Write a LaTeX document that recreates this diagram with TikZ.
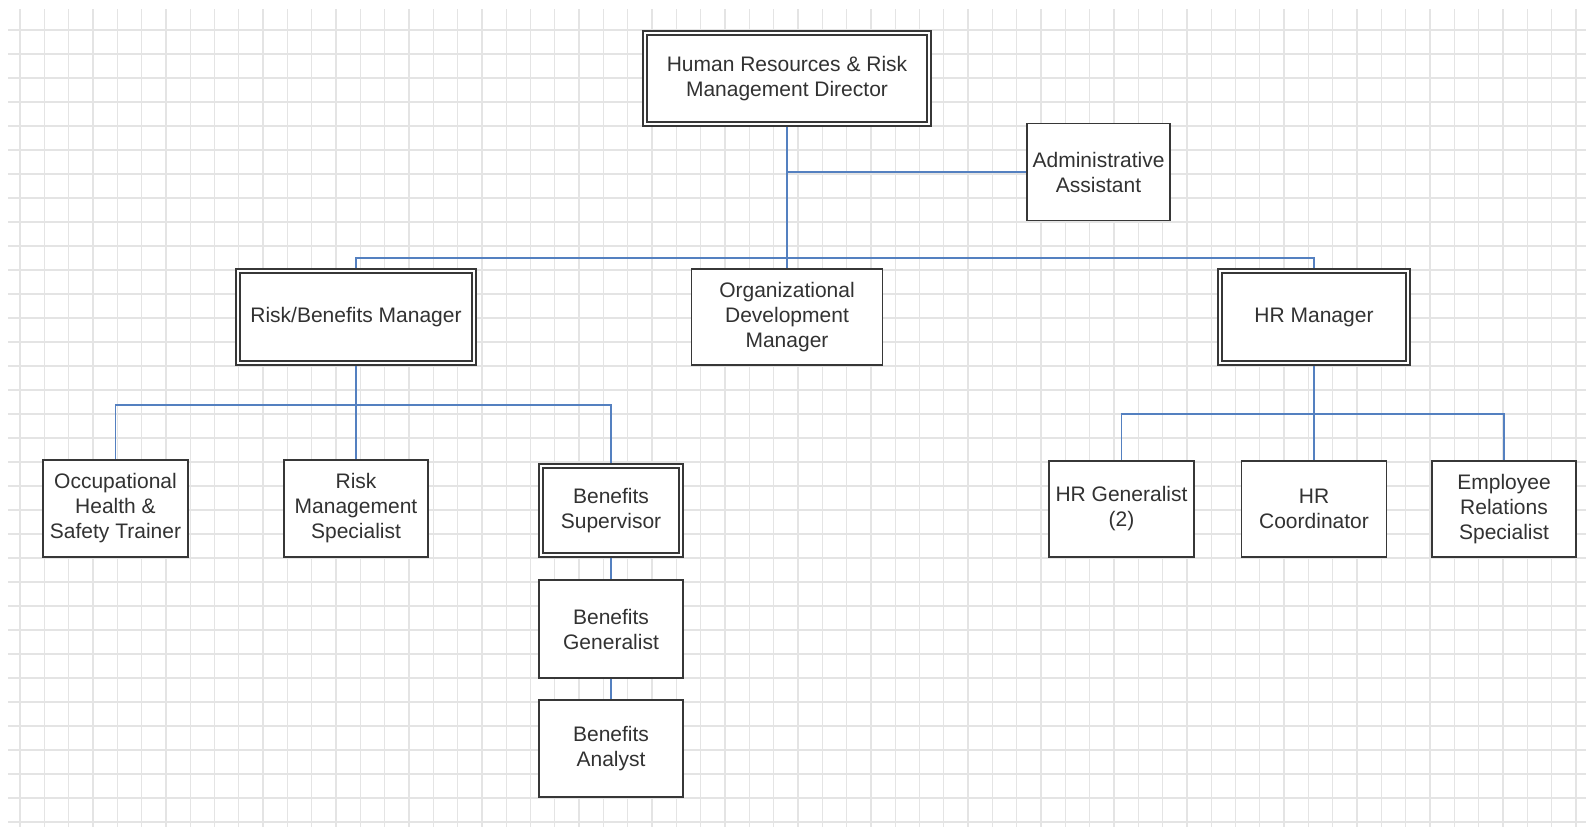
\documentclass[tikz,border=0pt]{standalone}
\usepackage{fontspec}
\setmainfont{Liberation Sans}
\pgfdeclarelayer{gridlayer}
\pgfdeclarelayer{connlayer}
\pgfsetlayers{gridlayer,connlayer,main}
\definecolor{gridc}{RGB}{228,228,228}
\definecolor{connc}{RGB}{84,128,192}
\definecolor{boxc}{RGB}{55,55,55}
\definecolor{txtc}{RGB}{50,50,50}
\tikzset{
  box/.style={rectangle, draw=boxc, line width=1.4pt, fill=white, inner sep=0pt,
    align=center, text=txtc, font=\fontsize{21}{25}\selectfont,
    minimum width=144pt, minimum height=96pt},
  dbox/.style={box, double=white, double distance=2.6pt, line width=1.3pt},
  conn/.style={draw=connc, line width=1.8pt},
  gridline/.style={draw=gridc, line width=1.3pt}
}
\begin{document}
\begin{tikzpicture}[x=1pt,y=-1pt]
\useasboundingbox (0,0) rectangle (1586,827);
\begin{pgfonlayer}{gridlayer}
  \fill[white] (0,0) rectangle (1586,827);
  \foreach \i in {0,...,64} \draw[gridline] ({20+24.31*\i},9) -- ({20+24.31*\i},827);
  \foreach \j in {0,...,33} \draw[gridline] (8,{30+24*\j}) -- (1586,{30+24*\j});
\end{pgfonlayer}

% nodes
\node[dbox, minimum width=284pt, minimum height=91pt] (dir) at (787,78.5) {Human Resources \& Risk\\Management Director};
\node[box, minimum width=143pt, minimum height=97pt] (adm) at (1098.5,172) {Administrative\\Assistant};
\node[dbox, minimum width=236pt, minimum height=92pt] (rbm) at (356,317) {Risk/Benefits Manager};
\node[box, minimum width=191pt] (odm) at (787,317) {Organizational\\Development\\Manager};
\node[dbox, minimum width=188pt, minimum height=92pt] (hrm) at (1314,317) {HR Manager};
\node[box, minimum width=145pt, minimum height=97pt] (ohst) at (115.5,508.5) {Occupational\\Health \&\\Safety Trainer};
\node[box, minimum height=97pt] (rms) at (356,508.5) {Risk\\Management\\Specialist};
\node[dbox, minimum width=140pt, minimum height=89pt] (bs) at (611,510.5) {Benefits\\Supervisor};
\node[box, minimum height=98pt] (bg) at (611,629) {Benefits\\Generalist};
\node[box, minimum height=97pt] (ba) at (611,748.5) {Benefits\\Analyst};
\node[box, minimum width=145pt] (hrg) at (1121.5,509) {HR Generalist\\(2)};
\node[box, minimum width=145pt] (hrc) at (1314,509) {HR\\Coordinator};
\node[box] (ers) at (1504,509) {Employee\\Relations\\Specialist};

% connectors
\begin{pgfonlayer}{connlayer}
  \draw[conn] (dir.south) -- (odm.north);
  \draw[conn] (adm.west) -- (adm.west -| dir.south);
  \draw[conn] (rbm.north) -- ++(0,-12) -| (hrm.north);
  \draw[conn] (rbm.south) -- (rms.north);
  \draw[conn] (ohst.north) -- ++(0,-54) -| (bs.north);
  \draw[conn] (bs.south) -- (bg.north);
  \draw[conn] (bg.south) -- (ba.north);
  \draw[conn] (hrm.south) -- (hrc.north);
  \draw[conn] (hrg.north) -- ++(0,-46) -| (ers.north);
\end{pgfonlayer}
\end{tikzpicture}
\end{document}
